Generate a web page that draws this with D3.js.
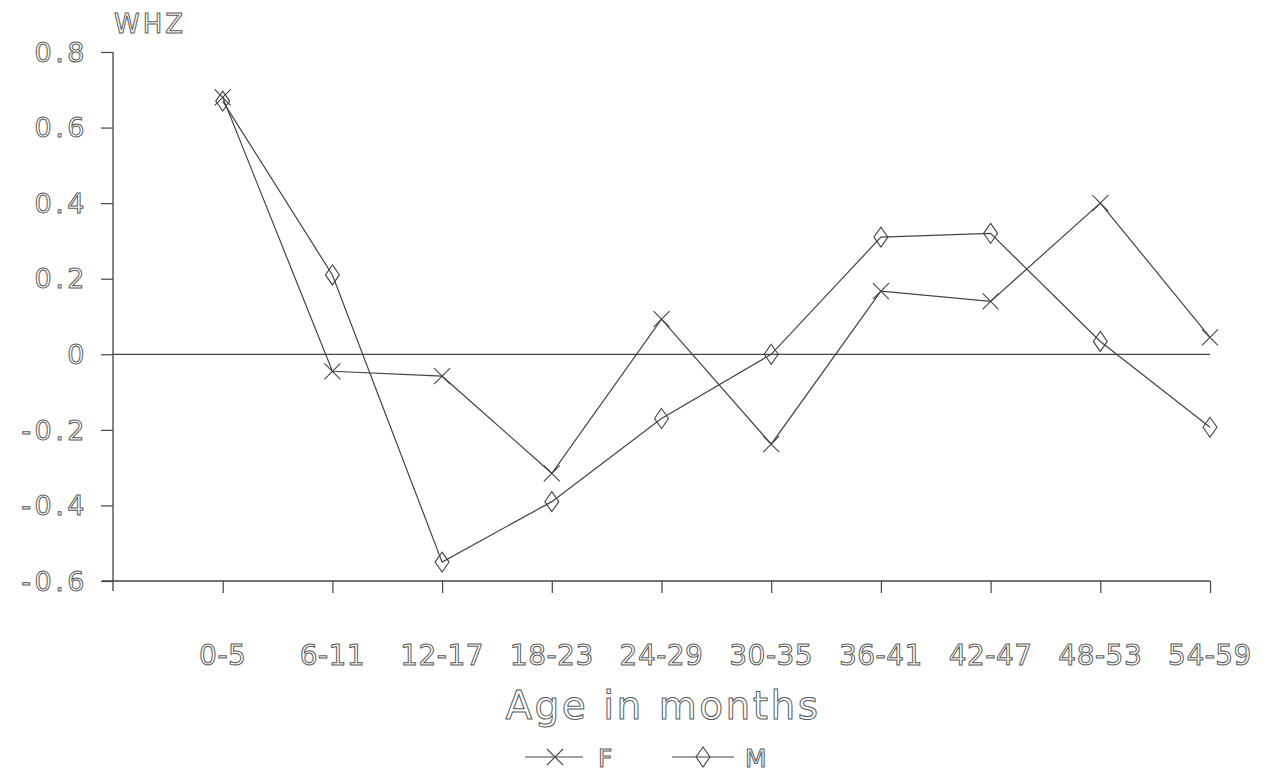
<!DOCTYPE html>
<html>
<head>
<meta charset="utf-8">
<script src="https://cdn.jsdelivr.net/npm/d3@7"></script>
<style>
  body { margin: 0; background: #fff; }
  .outline { fill: #fff; stroke: #5a5a5a; stroke-width: 1px; }
</style>
</head>
<body>
<div class="container"></div>
<script>
const WIDTH = 1266;
const HEIGHT = 777;

const categories = ["0-5", "6-11", "12-17", "18-23", "24-29", "30-35", "36-41", "42-47", "48-53", "54-59"];
const femaleValues = [0.68, -0.045, -0.058, -0.315, 0.093, -0.238, 0.167, 0.14, 0.40, 0.045];
const maleValues = [0.67, 0.21, -0.55, -0.39, -0.17, 0.0, 0.31, 0.32, 0.034, -0.193];
const yTicks = [0.8, 0.6, 0.4, 0.2, 0, -0.2, -0.4, -0.6];
const yTickLabels = ["0.8", "0.6", "0.4", "0.2", "0", "-0.2", "-0.4", "-0.6"];

const LINE_COLOR = "#444";
const FONT = "'DejaVu Sans', sans-serif";

// x: one empty slot before the first category, axis ends at the last one
var xScale = d3.scaleLinear()
    .domain([-1, categories.length - 1])
    .range([113, 1210]);

var yScale = d3.scaleLinear()
    .domain([-0.6, 0.8])
    .range([581, 52]);

var svg = d3.select('.container').append('svg')
    .attr('width', WIDTH)
    .attr('height', HEIGHT);

// y axis
var yAxis = d3.axisLeft(yScale)
    .tickValues(yTicks)
    .tickSize(12)
    .tickFormat(function(d){ return ""; });

var gy = svg.append('g')
    .attr('transform', 'translate(113,0)')
    .call(yAxis);
gy.select('.domain').remove();
gy.selectAll('.tick line').attr('stroke', LINE_COLOR).attr('stroke-width', 1.2);

svg.append('line')
    .attr('x1', 113).attr('x2', 113)
    .attr('y1', yScale(0.8)).attr('y2', yScale(-0.6) + 10)
    .attr('stroke', LINE_COLOR).attr('stroke-width', 1.3);

svg.append('g').selectAll('text')
    .data(yTicks)
    .enter()
    .append('text')
    .attr('class', 'outline')
    .attr('x', 88)
    .attr('y', function(d){ return yScale(d); })
    .attr('dy', '0.36em')
    .attr('text-anchor', 'end')
    .style('font-family', FONT)
    .style('font-size', '27px')
    .style('letter-spacing', '3.5px')
    .text(function(d, i){ return yTickLabels[i]; });

// x axis
var xAxis = d3.axisBottom(xScale)
    .tickValues(d3.range(categories.length))
    .tickSize(12)
    .tickFormat(function(d){ return ""; });

var gx = svg.append('g')
    .attr('transform', 'translate(0,' + yScale(-0.6) + ')')
    .call(xAxis);
gx.select('.domain').remove();
gx.selectAll('.tick line').attr('stroke', LINE_COLOR).attr('stroke-width', 1.2);

svg.append('line')
    .attr('x1', 102).attr('x2', xScale(categories.length - 1))
    .attr('y1', yScale(-0.6)).attr('y2', yScale(-0.6))
    .attr('stroke', LINE_COLOR).attr('stroke-width', 1.3);

svg.append('g').selectAll('text')
    .data(categories)
    .enter()
    .append('text')
    .attr('class', 'outline')
    .attr('x', function(d, i){ return xScale(i); })
    .attr('y', 665)
    .attr('text-anchor', 'middle')
    .style('font-family', FONT)
    .style('font-size', '28px')
    .style('letter-spacing', '0.5px')
    .text(function(d){ return d; });

// zero line
svg.append('line')
    .attr('x1', xScale(-1)).attr('x2', xScale(categories.length - 1))
    .attr('y1', yScale(0)).attr('y2', yScale(0))
    .attr('stroke', LINE_COLOR).attr('stroke-width', 1.2);

// titles
svg.append('text')
    .attr('class', 'outline')
    .attr('x', 150).attr('y', 33)
    .attr('text-anchor', 'middle')
    .style('font-family', FONT)
    .style('font-size', '26px')
    .style('letter-spacing', '3px')
    .text('WHZ');

svg.append('text')
    .attr('class', 'outline')
    .attr('x', 663).attr('y', 719)
    .attr('text-anchor', 'middle')
    .style('font-family', FONT)
    .style('font-size', '39px')
    .style('letter-spacing', '2.5px')
    .text('Age in months');

// series
var line = d3.line()
    .x(function(d, i){ return xScale(i); })
    .y(function(d){ return yScale(d); });

var crossPath = function(x, y, s){
    return "M" + (x - s) + "," + (y - s) + "L" + (x + s) + "," + (y + s) +
           "M" + (x - s) + "," + (y + s) + "L" + (x + s) + "," + (y - s);
};
var diamondPath = function(x, y, w, h){
    return "M" + x + "," + (y - h) + "L" + (x + w) + "," + y + "L" + x + "," + (y + h) +
           "L" + (x - w) + "," + y + "Z";
};

svg.append('path')
    .datum(femaleValues)
    .attr('d', line)
    .attr('fill', 'none')
    .attr('stroke', LINE_COLOR)
    .attr('stroke-width', 1.2);

svg.append('path')
    .datum(maleValues)
    .attr('d', line)
    .attr('fill', 'none')
    .attr('stroke', LINE_COLOR)
    .attr('stroke-width', 1.2);

svg.append('g').selectAll('path')
    .data(femaleValues)
    .enter()
    .append('path')
    .attr('d', function(d, i){ return crossPath(xScale(i), yScale(d), 8); })
    .attr('fill', 'none')
    .attr('stroke', LINE_COLOR)
    .attr('stroke-width', 1.1);

svg.append('g').selectAll('path')
    .data(maleValues)
    .enter()
    .append('path')
    .attr('d', function(d, i){ return diamondPath(xScale(i), yScale(d), 7, 10); })
    .attr('fill', 'none')
    .attr('stroke', LINE_COLOR)
    .attr('stroke-width', 1.1);

// legend
var legend = svg.append('g').attr('transform', 'translate(0,757)');

legend.append('line')
    .attr('x1', 525).attr('x2', 583).attr('y1', 0).attr('y2', 0)
    .attr('stroke', LINE_COLOR).attr('stroke-width', 1.1);
legend.append('path')
    .attr('d', crossPath(555, 0, 8))
    .attr('fill', 'none').attr('stroke', LINE_COLOR).attr('stroke-width', 1.1);
legend.append('text')
    .attr('class', 'outline')
    .attr('x', 598).attr('y', 10)
    .style('font-family', FONT)
    .style('font-size', '25px')
    .text('F');

legend.append('line')
    .attr('x1', 672).attr('x2', 734).attr('y1', 0).attr('y2', 0)
    .attr('stroke', LINE_COLOR).attr('stroke-width', 1.1);
legend.append('path')
    .attr('d', diamondPath(703, 0, 7, 10))
    .attr('fill', 'none').attr('stroke', LINE_COLOR).attr('stroke-width', 1.1);
legend.append('text')
    .attr('class', 'outline')
    .attr('x', 745).attr('y', 10)
    .style('font-family', FONT)
    .style('font-size', '25px')
    .text('M');
</script>
</body>
</html>
